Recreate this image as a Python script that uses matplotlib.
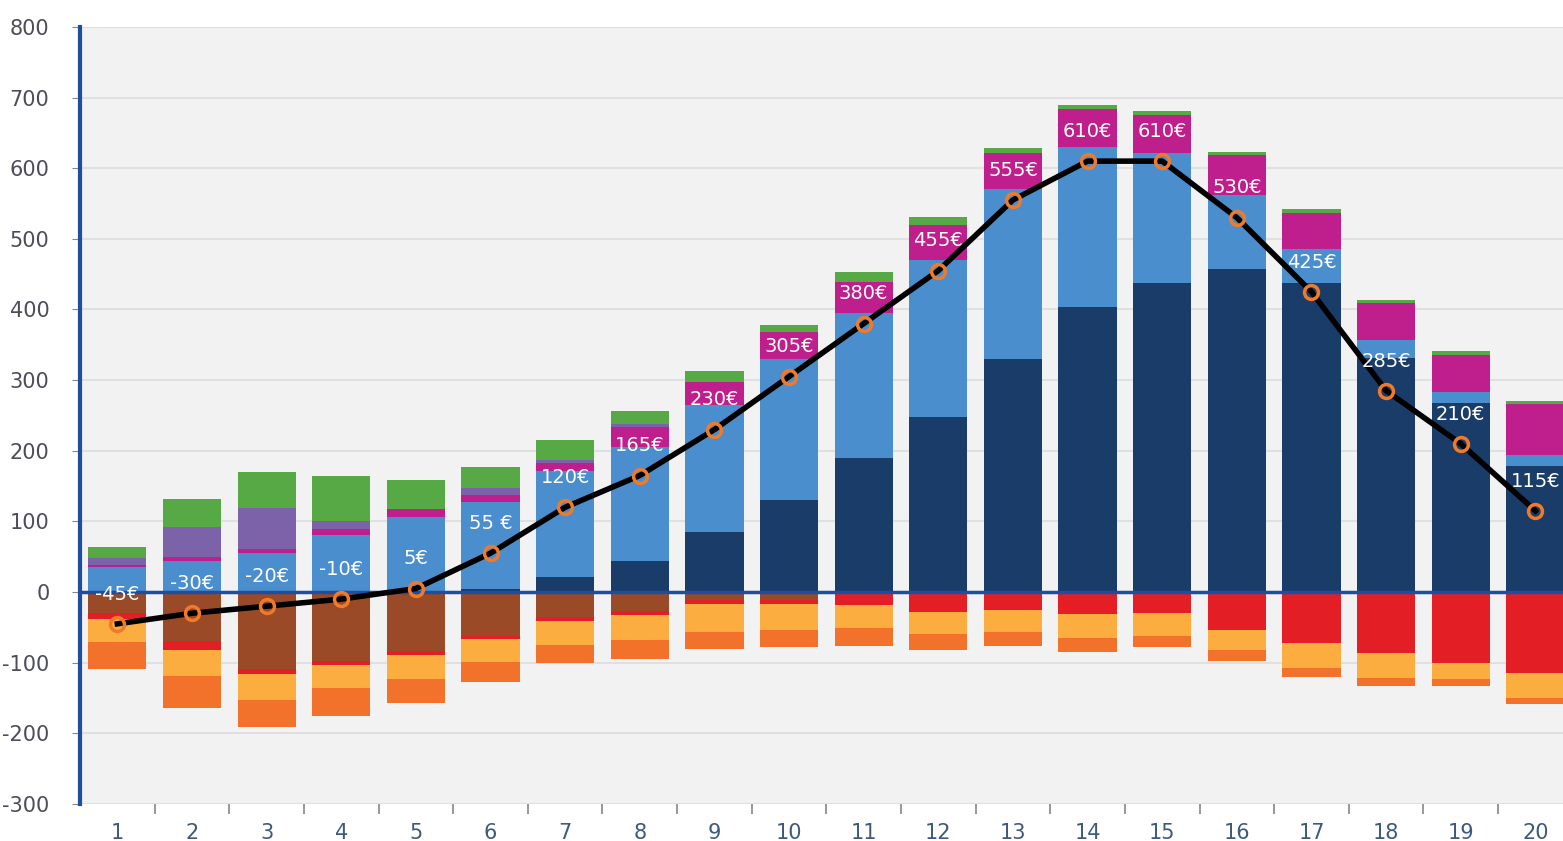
import matplotlib
matplotlib.use("Agg")
import matplotlib.pyplot as plt
import numpy as np

# categories
months = [str(i) for i in range(1, 21)]

# positive stack (bottom -> top)
navy = [0, 0, 0, 0, 0, 5, 22, 44, 85, 130, 190, 248, 330, 404, 438, 458, 438, 332, 268, 179]
light_blue = [35, 44, 55, 81, 106, 123, 150, 162, 180, 200, 205, 222, 240, 226, 184, 104, 47, 25, 15, 15]
magenta = [3, 6, 6, 8, 11, 9, 10, 28, 32, 38, 44, 49, 52, 54, 54, 57, 51, 52, 53, 72]
purple = [10, 42, 58, 12, 0, 10, 5, 4, 0, 0, 0, 0, 0, 0, 0, 0, 0, 0, 0, 0]
green = [16, 40, 51, 63, 42, 30, 28, 18, 16, 10, 14, 12, 6, 6, 5, 4, 6, 4, 5, 4]

# negative stack (top -> bottom)
brown = [-30, -69, -109, -97, -83, -62, -35, -27, -11, -11, -3, -2, -2, -2, -2, 0, 0, 0, 0, 0]
red = [-8, -13, -7, -6, -6, -4, -6, -5, -6, -6, -15, -26, -23, -29, -28, -53, -72, -86, -100, -114]
light_orange = [-32, -37, -37, -33, -34, -33, -34, -36, -39, -37, -33, -31, -32, -34, -32, -29, -36, -35, -23, -36]
orange = [-39, -45, -38, -40, -34, -28, -25, -27, -25, -24, -25, -23, -20, -20, -16, -15, -12, -12, -10, -8]

# net result line
net = [-45, -30, -20, -10, 5, 55, 120, 165, 230, 305, 380, 455, 555, 610, 610, 530, 425, 285, 210, 115]
net_labels = ["-45€", "-30€", "-20€", "-10€", "5€", "55 €", "120€", "165€", "230€", "305€",
              "380€", "455€", "555€", "610€", "610€", "530€", "425€", "285€", "210€", "115€"]

y_ticks = [-300, -200, -100, 0, 100, 200, 300, 400, 500, 600, 700, 800]

fig = plt.figure(figsize=(15.63, 8.41), dpi=100)
ax = fig.add_axes([0.0512, 0.044, 0.955, 0.924])
ax.set_facecolor("#f2f2f2")

x = np.arange(1, 21)
w = 0.78

pos_series = [(navy, "#1a3c69"), (light_blue, "#4a8ecd"), (magenta, "#bf1f8c"),
              (purple, "#7b62a9"), (green, "#57a946")]
bottom = np.zeros(20)
for vals, col in pos_series:
    ax.bar(x, vals, w, bottom=bottom, color=col, zorder=2)
    bottom = bottom + np.array(vals)

neg_series = [(brown, "#9a4a26"), (red, "#e31e25"), (light_orange, "#fbae3f"), (orange, "#f3722b")]
bottom = np.zeros(20)
for vals, col in neg_series:
    ax.bar(x, vals, w, bottom=bottom, color=col, zorder=2)
    bottom = bottom + np.array(vals)

ax.axhline(0, color="#1f4ea0", lw=2.5, zorder=3)

ax.plot(x, net, color="black", lw=4, zorder=4)
ax.plot(x, net, "o", ms=10, mfc="none", mec="#f07a28", mew=2.5, zorder=5)

for xi, v, lab in zip(x, net, net_labels):
    ax.text(xi, v + 42, lab, color="white", fontsize=14, ha="center", va="center", zorder=6)

ax.set_xlim(0.5, 20.5)
ax.set_ylim(-300, 800)
ax.set_yticks(y_ticks)
ax.set_yticklabels([str(t) for t in y_ticks], fontsize=15, color="#4d4d5a")
ax.set_xticks(x)
ax.set_xticklabels(months, fontsize=15, color="#3c5a80")
ax.set_xticks(np.arange(1.5, 20.5, 1), minor=True)
ax.tick_params(axis="x", which="major", length=0, pad=14)
ax.tick_params(axis="x", which="minor", length=7, color="#888888", width=1.2)
ax.tick_params(axis="y", length=6, color="#888888", pad=16)

ax.grid(axis="y", color="#e0e0e0", lw=1.5, zorder=0)
ax.set_axisbelow(True)

for s in ["top", "right", "bottom"]:
    ax.spines[s].set_visible(False)
ax.spines["left"].set_color("#1f4ea0")
ax.spines["left"].set_linewidth(3)

fig.savefig("out.png", dpi=100)
